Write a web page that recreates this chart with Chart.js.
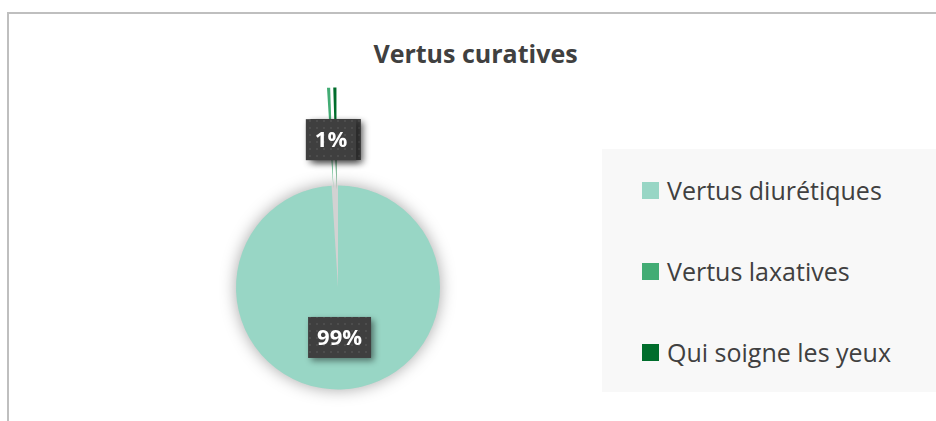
<!DOCTYPE html>
<html>
<head>
<meta charset="utf-8">
<script src="https://cdn.jsdelivr.net/npm/chart.js@4/dist/chart.umd.min.js"></script>
<style>
  html, body { margin: 0; padding: 0; background: #ffffff; overflow: hidden; }
  #wrap { position: relative; width: 936px; height: 421px; overflow: hidden; }
  #frame { position: absolute; left: 7px; top: 12px; width: 960px; height: 440px;
           border-left: 2px solid #bfbfbf; border-top: 2px solid #bfbfbf; box-sizing: border-box; }
  #title { position: absolute; left: 0; width: 951px; top: 36px; line-height: 34px; text-align: center;
           font-family: "Open Sans", Lato, sans-serif; font-weight: bold; font-size: 25px; color: #404040; }
  #legend { position: absolute; left: 602px; top: 149px; width: 360px; height: 243px; background: #f8f8f8; }
  .item { position: absolute; left: 40px; height: 24px; display: flex; align-items: center;
          font-family: "Open Sans", Lato, sans-serif; font-size: 25px; color: #404040; white-space: nowrap; }
  .sw { width: 17px; height: 17px; margin-right: 8px; flex: none; }
  canvas { position: absolute; left: 0; top: 0; }
</style>
</head>
<body>
<div id="wrap">
  <div id="frame"></div>
  <div id="title"></div>
  <div id="legend"></div>
  <canvas id="c" width="936" height="421"></canvas>
</div>
<script>
// ---- data ----
const chartTitle = "Vertus curatives";
const categories = ["Vertus diurétiques", "Vertus laxatives", "Qui soigne les yeux"];
const shares = [99, 0.5, 0.5];          // percent of answers
const sliceColors = ["#98d6c5", "#42ac74", "#006d2c"];
const explode = [0, 98, 98];            // exploded slices (px)

// ---- title & legend (HTML text) ----
document.getElementById('title').textContent = chartTitle;
const legendEl = document.getElementById('legend');
categories.forEach((name, i) => {
  const it = document.createElement('div');
  it.className = 'item';
  it.style.top = (29 + i * 81) + 'px';
  const sw = document.createElement('span');
  sw.className = 'sw';
  sw.style.background = sliceColors[i];
  const tx = document.createElement('span');
  tx.textContent = name;
  it.appendChild(sw); it.appendChild(tx);
  legendEl.appendChild(it);
});

// ---- dotted dark pattern for data label boxes ----
function makePattern(ctx) {
  const p = document.createElement('canvas');
  p.width = 7; p.height = 7;
  const pc = p.getContext('2d');
  pc.fillStyle = '#3f3f3f';
  pc.fillRect(0, 0, 7, 7);
  pc.fillStyle = '#4d4d4d';
  pc.fillRect(1, 1, 2, 2);
  return ctx.createPattern(p, 'repeat');
}

// move exploded slices outward along their mid angle (same radius)
const explodePlugin = {
  id: 'explodeSlices',
  afterDatasetsUpdate(chart) {
    const meta = chart.getDatasetMeta(0);
    meta.data.forEach((arc, i) => {
      const d = explode[i];
      if (!d) return;
      const mid = (arc.startAngle + arc.endAngle) / 2;
      arc.x += Math.cos(mid) * d;
      arc.y += Math.sin(mid) * d;
    });
  }
};

const pieShadow = {
  id: 'pieShadow',
  beforeDatasetsDraw(chart) {
    const arc = chart.getDatasetMeta(0).data[0];
    if (!arc) return;
    const ctx = chart.ctx;
    ctx.save();
    ctx.shadowColor = 'rgba(0,0,0,0.35)';
    ctx.shadowBlur = 16;
    ctx.fillStyle = '#d2d2d2';
    ctx.beginPath();
    ctx.arc(arc.x, arc.y, arc.outerRadius, 0, Math.PI * 2);
    ctx.fill();
    ctx.restore();
  }
};

const dataLabels = {
  id: 'dataLabels',
  afterDatasetsDraw(chart) {
    const ctx = chart.ctx;
    const meta = chart.getDatasetMeta(0);
    const pat = makePattern(ctx);
    const order = meta.data.map((_, i) => i).reverse();
    order.forEach(i => {
      const arc = meta.data[i];
      const txt = Math.round(shares[i]) + '%';
      const mid = (arc.startAngle + arc.endAngle) / 2;
      const dist = arc.outerRadius * 0.49;
      const cx = arc.x + Math.cos(mid) * dist;
      const cy = arc.y + Math.sin(mid) * dist;
      ctx.save();
      ctx.font = 'bold 22px "Open Sans", Lato, sans-serif';
      const tw = ctx.measureText(txt).width;
      const w = tw + 18, h = 41;
      ctx.shadowColor = 'rgba(0,0,0,0.45)';
      ctx.shadowBlur = 6;
      ctx.shadowOffsetX = 3;
      ctx.shadowOffsetY = 3;
      ctx.fillStyle = pat;
      ctx.fillRect(cx - w / 2, cy - h / 2, w, h);
      ctx.shadowColor = 'transparent';
      ctx.fillStyle = '#ffffff';
      ctx.textAlign = 'center';
      ctx.textBaseline = 'middle';
      ctx.fillText(txt, cx, cy + 1);
      ctx.restore();
    });
  }
};

new Chart(document.getElementById('c'), {
  type: 'pie',
  data: {
    labels: categories,
    datasets: [{
      data: shares,
      backgroundColor: sliceColors,
      borderWidth: 0,
      clip: false
    }]
  },
  options: {
    responsive: false,
    animation: false,
    radius: 102,
    layout: { padding: { left: 200, right: 460, top: 180, bottom: 26 } },
    plugins: {
      legend: { display: false },
      title: { display: false },
      tooltip: { enabled: false }
    }
  },
  plugins: [explodePlugin, pieShadow, dataLabels]
});
</script>
</body>
</html>
